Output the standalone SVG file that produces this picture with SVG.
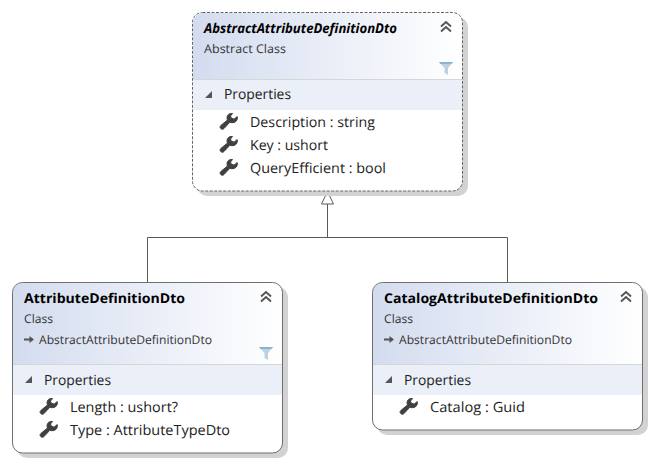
<svg xmlns="http://www.w3.org/2000/svg" width="654" height="465" viewBox="0 0 654 465">
<style>
text{font-family:"Open Sans","Noto Sans","Liberation Sans",sans-serif;fill:#1e1e1e;text-rendering:geometricPrecision}
.t{font-size:13.5px;font-weight:700;fill:#000}
.s{font-size:12px;fill:#333}
.h{font-size:14px;fill:#222}
.m{font-size:14px;fill:#222}
.box{fill:none;stroke:#6f6f6f;stroke-width:1}
.shadow{fill:#d2d2d2}
.band{fill:#eaeff8}
.sep{stroke:#d6d6d6;stroke-width:1}
.conn{fill:none;stroke:#5a5a5a;stroke-width:1}
.chev{fill:none;stroke:#555;stroke-width:1.9}
</style>
<defs>
<linearGradient id="hd" x1="0" y1="0" x2="1" y2="0"><stop offset="0" stop-color="#d3dcef"/><stop offset="1" stop-color="#ffffff"/></linearGradient>
<symbol id="wrench" overflow="visible"><path d="M12.5 0.5 C9.5 0 7 1.8 7 4.6 C7 5.6 7.2 6.3 7.5 7 L0.8 12.5 C-0.4 13.6 0 15.4 1.4 16 C2.4 16.5 3.3 16.2 4 15.5 L9.8 9.3 C12.6 10.4 16 9.4 17 6.8 C17.5 5.7 17.5 4.7 17.2 3.6 L14 6.2 L11 4.8 L10.5 3 Z" fill="#404040" stroke="#404040" stroke-width="1"/></symbol>
<symbol id="funnel" overflow="visible"><path d="M0 0 H14 L9 6 V13 L5.5 11 V6 Z" fill="#bcd2e2"/><path d="M0 0 H14 L12.5 2 H1.5 Z" fill="#8fb3cc"/></symbol>
<symbol id="chevs" overflow="visible"><path class="chev" d="M0 5.5 L5 1 L10 5.5 M0 10.5 L5 6 L10 10.5"/></symbol>
<symbol id="tri" overflow="visible"><path d="M0 7 L7 7 L7 0 Z" fill="#555"/></symbol>
<symbol id="arr" overflow="visible"><path d="M0 3.4 H5.5 V1 L10 4.5 L5.5 8 V5.6 H0 Z" fill="#555"/></symbol>
</defs>
<g id="connectors">
<path class="conn" d="M327.5 204 V237.5 M147.5 282 V237.5 H507.5 V282"/>
<path d="M327.5 191.5 L333.5 204 H321.5 Z" fill="#fff" stroke="#5a5a5a"/>
</g>
<g id="AbstractAttributeDefinitionDto">
<rect class="shadow" x="197" y="17" width="271" height="179" rx="10"/>
<rect x="192.5" y="12.5" width="270" height="178.5" rx="10" fill="#fff"/>
<path d="M193 79 V22.5 A10 10 0 0 1 203 13 H452 A10 10 0 0 1 462 22.5 V79 Z" fill="url(#hd)"/>
<rect class="band" x="193" y="80" width="269" height="30"/>
<line class="sep" x1="193" y1="79.5" x2="462" y2="79.5"/>
<rect x="192.5" y="12.5" width="270" height="178.5" rx="10" fill="none" stroke="#666" stroke-dasharray="3 1.5"/>
<text class="t" x="204" y="33" font-style="italic" textLength="193" lengthAdjust="spacingAndGlyphs">AbstractAttributeDefinitionDto</text>
<text class="s" x="204" y="53" textLength="82" lengthAdjust="spacingAndGlyphs">Abstract Class</text>
<use href="#chevs" x="441" y="21"/>
<use href="#funnel" x="439" y="62"/>
<use href="#tri" x="205" y="91"/>
<text class="h" x="224" y="99" textLength="67" lengthAdjust="spacingAndGlyphs">Properties</text>
<use href="#wrench" x="220" y="113"/>
<text class="m" x="250" y="127" textLength="125" lengthAdjust="spacingAndGlyphs">Description : string</text>
<use href="#wrench" x="220" y="136"/>
<text class="m" x="250" y="150" textLength="78" lengthAdjust="spacingAndGlyphs">Key : ushort</text>
<use href="#wrench" x="220" y="159"/>
<text class="m" x="250" y="173" textLength="136" lengthAdjust="spacingAndGlyphs">QueryEfficient : bool</text>
</g>
<g id="AttributeDefinitionDto">
<rect class="shadow" x="17" y="287" width="271" height="171" rx="10"/>
<rect x="12.5" y="282.5" width="270" height="170.5" rx="10" fill="#fff"/>
<path d="M13 364 V292.5 A10 10 0 0 1 23 283 H272 A10 10 0 0 1 282 292.5 V364 Z" fill="url(#hd)"/>
<rect class="band" x="13" y="365" width="269" height="30"/>
<line class="sep" x1="13" y1="364.5" x2="282" y2="364.5"/>
<rect class="box" x="12.5" y="282.5" width="270" height="170.5" rx="10"/>
<text class="t" x="24" y="303" textLength="161" lengthAdjust="spacingAndGlyphs">AttributeDefinitionDto</text>
<text class="s" x="24" y="323" textLength="29" lengthAdjust="spacingAndGlyphs">Class</text>
<use href="#arr" x="24" y="335"/>
<text class="s" x="39" y="344" textLength="173" lengthAdjust="spacingAndGlyphs">AbstractAttributeDefinitionDto</text>
<use href="#chevs" x="261" y="291"/>
<use href="#funnel" x="259" y="347"/>
<use href="#tri" x="25" y="376"/>
<text class="h" x="44" y="385" textLength="67" lengthAdjust="spacingAndGlyphs">Properties</text>
<use href="#wrench" x="40" y="398"/>
<text class="m" x="70" y="412" textLength="108" lengthAdjust="spacingAndGlyphs">Length : ushort?</text>
<use href="#wrench" x="40" y="421"/>
<text class="m" x="70" y="435" textLength="160" lengthAdjust="spacingAndGlyphs">Type : AttributeTypeDto</text>
</g>
<g id="CatalogAttributeDefinitionDto">
<rect class="shadow" x="377" y="287" width="271" height="148" rx="10"/>
<rect x="372.5" y="282.5" width="270" height="147.5" rx="10" fill="#fff"/>
<path d="M373 364 V292.5 A10 10 0 0 1 383 283 H632 A10 10 0 0 1 642 292.5 V364 Z" fill="url(#hd)"/>
<rect class="band" x="373" y="365" width="269" height="30"/>
<line class="sep" x1="373" y1="364.5" x2="642" y2="364.5"/>
<rect class="box" x="372.5" y="282.5" width="270" height="147.5" rx="10"/>
<text class="t" x="384" y="303" textLength="214" lengthAdjust="spacingAndGlyphs">CatalogAttributeDefinitionDto</text>
<text class="s" x="384" y="323" textLength="29" lengthAdjust="spacingAndGlyphs">Class</text>
<use href="#arr" x="384" y="335"/>
<text class="s" x="399" y="344" textLength="173" lengthAdjust="spacingAndGlyphs">AbstractAttributeDefinitionDto</text>
<use href="#chevs" x="621" y="291"/>
<use href="#tri" x="385" y="376"/>
<text class="h" x="404" y="385" textLength="67" lengthAdjust="spacingAndGlyphs">Properties</text>
<use href="#wrench" x="400" y="398"/>
<text class="m" x="430" y="412" textLength="95" lengthAdjust="spacingAndGlyphs">Catalog : Guid</text>
</g>
</svg>
